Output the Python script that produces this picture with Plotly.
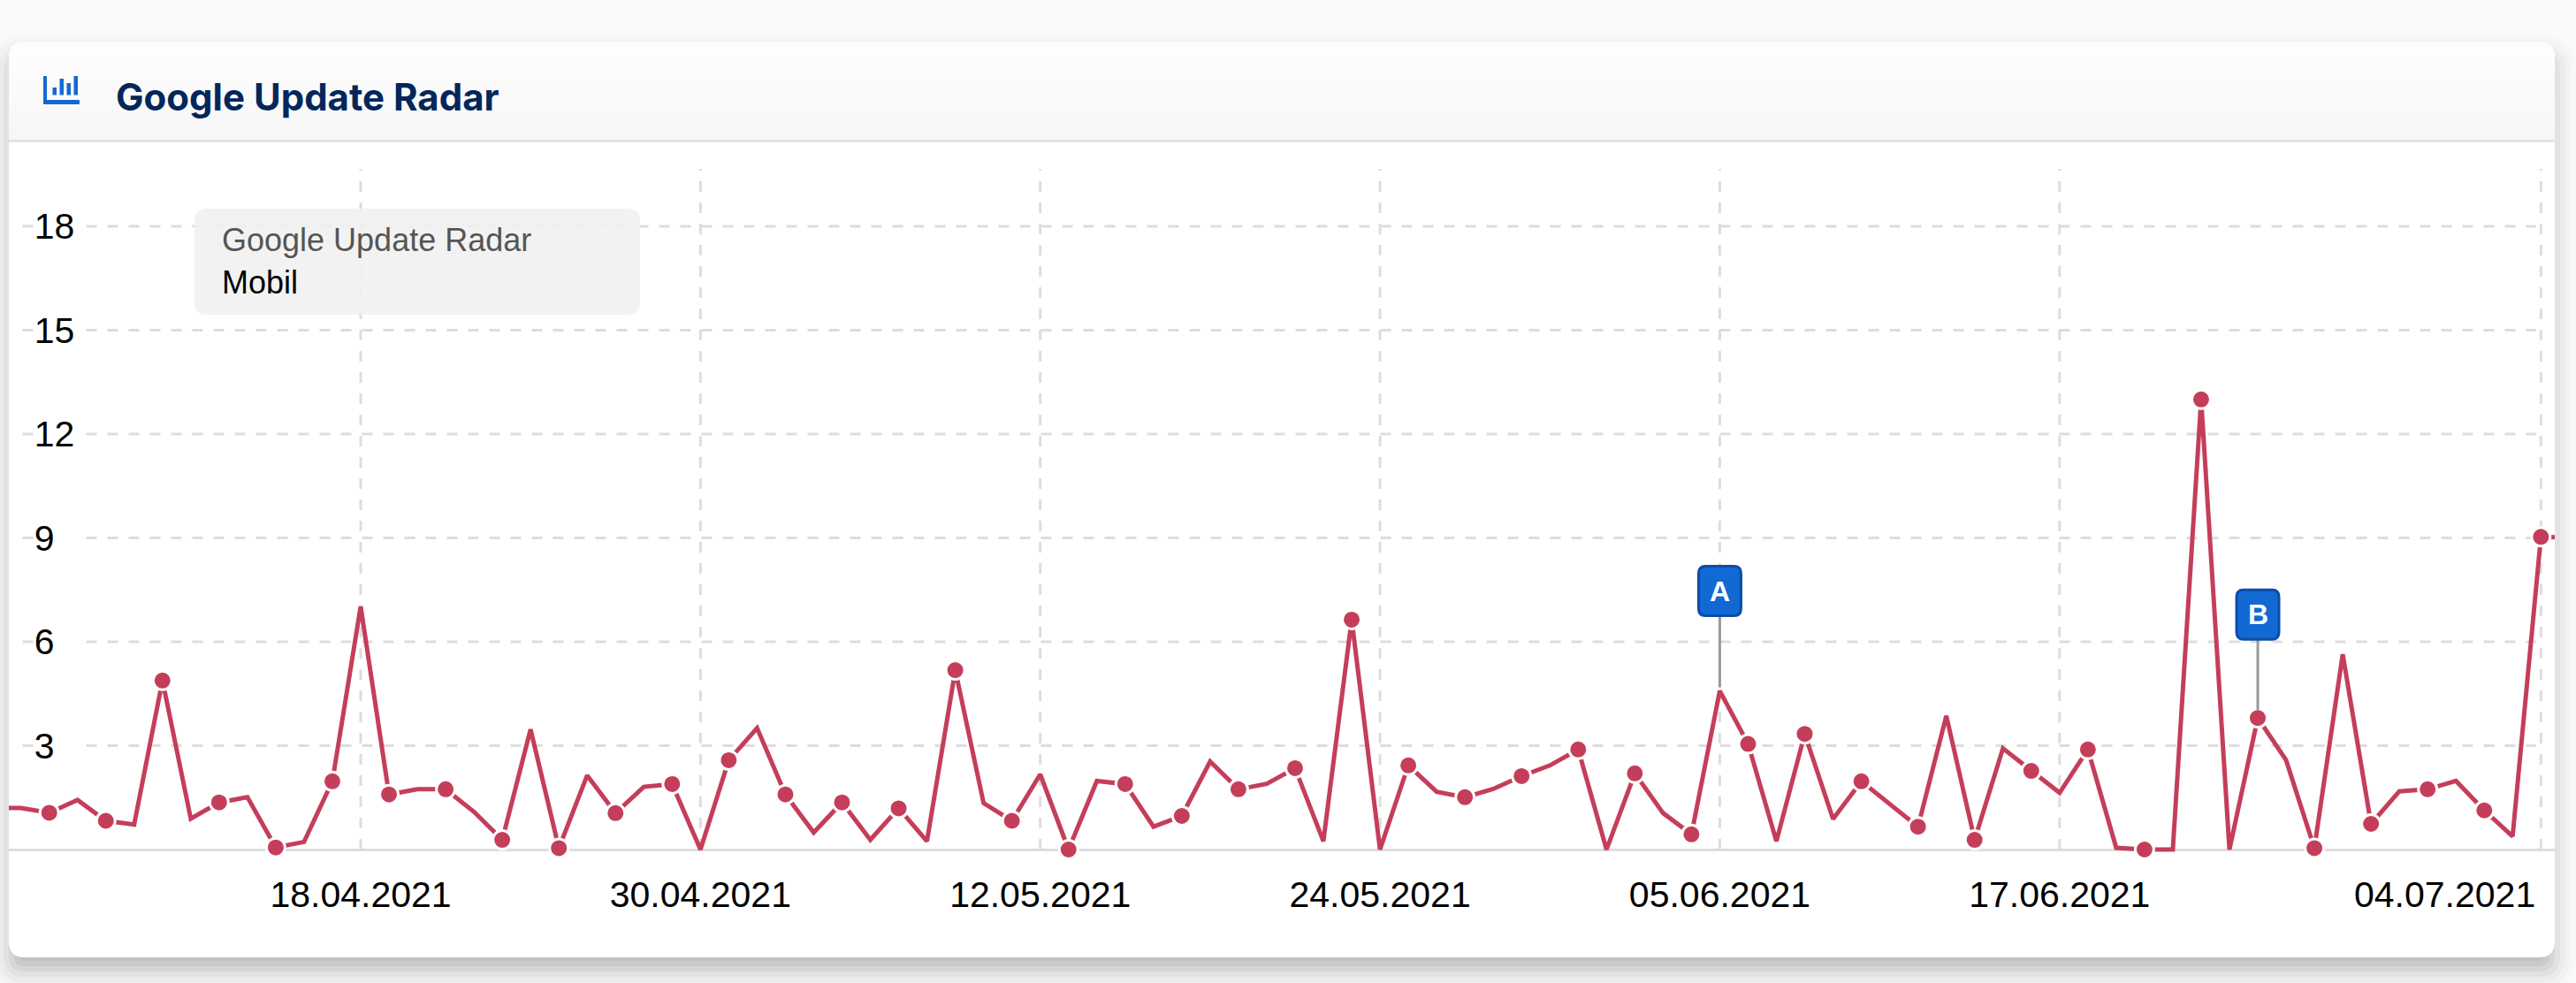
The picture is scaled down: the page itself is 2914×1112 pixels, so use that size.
import plotly.graph_objects as go
import pandas as pd
import numpy as np

dates = pd.date_range("2021-04-05", "2021-07-05", freq="D")
values = [
    1.2, 1.2, 1.06, 1.43, 0.83, 0.72, 4.88, 0.89, 1.36, 1.51, 0.06, 0.22, 1.97, 7.02,
    1.59, 1.74, 1.74, 1.09, 0.28, 3.47, 0.04, 2.14, 1.05, 1.81, 1.89, 0, 2.58, 3.51,
    1.59, 0.49, 1.36, 0.28, 1.19, 0.24, 5.18, 1.34, 0.83, 2.17, 0, 1.98, 1.89, 0.66,
    0.97, 2.54, 1.74, 1.9, 2.35, 0.24, 6.64, 0, 2.43, 1.67, 1.51, 1.75, 2.12, 2.43,
    2.89, 0, 2.2, 1.05, 0.44, 4.58, 3.05, 0.24, 3.34, 0.88, 1.97, 1.3, 0.66, 3.86,
    0.28, 2.92, 2.27, 1.64, 2.89, 0.05, 0, 0, 13.0, 0, 3.8, 2.58, 0.04, 5.64, 0.74,
    1.68, 1.74, 1.98, 1.13, 0.38, 9.03, 9.0,
]
y_ticks = [3, 6, 9, 12, 15, 18]
tick_dates = ["2021-04-18", "2021-04-30", "2021-05-12", "2021-05-24", "2021-06-05", "2021-06-17"]
tick_labels = ["18.04.2021", "30.04.2021", "12.05.2021", "24.05.2021", "05.06.2021", "17.06.2021"]
last_date = "2021-07-04"
last_label = "04.07.2021"
flags = [("A", "2021-06-05", 4.58, 4, 81), ("B", "2021-06-24", 3.8, 9, 80)]

W, H = 2914, 1112
L, R, T, B = 10, 2890, 191, 975  # plot area in page pixels
UNIT = 39.17  # pixels per y unit
RED = "#c43e5a"
BLUE = "#1269d3"
GRID = "#dddddd"
FONT = "Liberation Sans"


def box_path(a, b, c, d, r):
    # a,c left/right and b,d top/bottom, in pixels with y going up
    return (f"M{a + r},{b} L{c - r},{b} Q{c},{b} {c},{b - r} L{c},{d + r} Q{c},{d} {c - r},{d} "
            f"L{a + r},{d} Q{a},{d} {a},{d + r} L{a},{b - r} Q{a},{b} {a + r},{b} Z")


def page_rect(x0, y0, x1, y1, r=0, fill="#ffffff", opacity=1, layer="below"):
    # rectangle given in page pixels, anchored on the top left of the plot area
    return dict(type="path", xref="paper", yref="paper", xsizemode="pixel", ysizemode="pixel",
                xanchor=0, yanchor=1, path=box_path(x0 - L, T - y0, x1 - L, T - y1, r),
                fillcolor=fill, opacity=opacity, line_width=0, layer=layer)


shapes = []

# card shadow
spreads = np.arange(-42, 27, 6)
weights = np.exp(-((spreads + 8) ** 2) / (2 * 18.0 ** 2))
weights = weights / weights.sum() * 0.36
for s, w in zip(spreads, weights):
    shapes.append(page_rect(10 - s, 47 + 16 - s, 2890 + s, 1083 + 16 + s, max(18 + s, 6),
                            fill="#000000", opacity=float(w)))

# card and header
shapes.append(page_rect(10, 47, 2890, 1083, 18))
shapes.append(page_rect(10, 47, 2890, 120, 18, fill="#fdfdfd"))
for i, c in enumerate(["#fcfcfc", "#fbfbfb", "#fafafa", "#f9f9f9", "#f8f8f8", "#f7f7f7"]):
    shapes.append(page_rect(10, 65 + i * 16, 2890, 158, 0, fill=c))
shapes.append(page_rect(10, 158, 2890, 161, 0, fill="#e4e4e4"))

# chart icon
shapes.append(page_rect(49, 86, 53, 118, 1, fill=BLUE))
shapes.append(page_rect(49, 113, 90, 118, 1, fill=BLUE))
for x0, top in [(59.5, 99), (67.5, 89), (75.5, 94), (83.5, 86)]:
    shapes.append(page_rect(x0, top, x0 + 4.5, 107.5, 0, fill=BLUE))

# grid
dash = "12px,12px"
for v in y_ticks:
    for x0, x1 in [(25.5, 37.5), (97.5, 2869)]:
        shapes.append(dict(type="line", xref="paper", yref="y", x0=(x0 - L) / (R - L), x1=(x1 - L) / (R - L),
                           y0=v, y1=v, line=dict(color=GRID, width=3, dash=dash), layer="below"))
for d in tick_dates + [last_date]:
    shapes.append(dict(type="line", xref="x", yref="paper", x0=d, x1=d, y0=(B - 961) / (B - T), y1=1,
                       line=dict(color=GRID, width=3, dash=dash), layer="below"))

# legend box
shapes.append(page_rect(220, 236, 724, 356, 14, fill="#f0f0f0", opacity=0.88, layer="above"))

annotations = [
    dict(text="Google Update Radar", xref="paper", yref="paper", x=(249 - L) / (R - L), y=1 - (271 - T) / (B - T),
         xanchor="left", yanchor="middle", showarrow=False, font=dict(family=FONT, size=36, color="#555555")),
    dict(text="Mobil", xref="paper", yref="paper", x=(249 - L) / (R - L), y=1 - (319 - T) / (B - T),
         xanchor="left", yanchor="middle", showarrow=False, font=dict(family=FONT, size=36, color="#000000")),
    dict(text=last_label, xref="x", yref="paper", x=last_date, y=1 - (1012 - T) / (B - T), xshift=-4,
         xanchor="right", yanchor="middle", showarrow=False, font=dict(family=FONT, size=41, color="#000000")),
]

# flags on the series
for letter, day, val, gap, stem in flags:
    shapes.append(dict(type="line", xref="x", yref="y", xsizemode="pixel", ysizemode="pixel",
                       xanchor=day, yanchor=val, x0=0, x1=0, y0=gap, y1=gap + stem,
                       line=dict(color="#999999", width=3), layer="above"))
    shapes.append(dict(type="path", xref="x", yref="y", xsizemode="pixel", ysizemode="pixel",
                       xanchor=day, yanchor=val, path=box_path(-24, gap + stem + 56, 24, gap + stem, 8),
                       fillcolor=BLUE, line=dict(color="#0b4da8", width=3), layer="above"))
    annotations.append(dict(text=f"<b>{letter}</b>", x=day, y=val, xref="x", yref="y", showarrow=False,
                            yshift=gap + stem + 28, font=dict(family=FONT, size=32, color="#ffffff")))

fig = go.Figure()
fig.add_trace(go.Scatter(x=dates, y=values, mode="lines", line=dict(color=RED, width=5), hoverinfo="skip"))
fig.add_trace(go.Scatter(x=dates[::2], y=values[::2], mode="markers",
                         marker=dict(color=RED, size=21, line=dict(color="#ffffff", width=3))))

tick_font = dict(family=FONT, size=41, color="#000000")
fig.update_layout(
    width=W, height=H, showlegend=False,
    margin=dict(l=L, r=W - R, t=T, b=H - B, pad=0),
    paper_bgcolor="#fafafa", plot_bgcolor="rgba(0,0,0,0)",
    font=dict(family=FONT, size=40, color="#000000"),
    title=dict(text="<b>Google Update Radar</b>", xref="container", yref="container",
               x=131 / W, y=1 - 110 / H, xanchor="left", yanchor="middle",
               font=dict(family="Inter", size=42, color="#03275b")),
    shapes=shapes, annotations=annotations,
)
day0 = pd.Timestamp("2021-04-18")
px_day = 32.03
fig.update_xaxes(
    range=[day0 + pd.Timedelta(days=(L - 408) / px_day), day0 + pd.Timedelta(days=(R - 408) / px_day)],
    tickmode="array", tickvals=tick_dates, ticktext=tick_labels, tickfont=tick_font,
    ticks="outside", ticklen=1, tickcolor="rgba(0,0,0,0)",
    showgrid=False, zeroline=False, showline=False,
)
fig.update_yaxes(
    range=[-(B - 961) / UNIT, (961 - T) / UNIT],
    tickmode="array", tickvals=y_ticks, tickfont=tick_font, ticklabelposition="inside", ticks="inside", ticklen=34,
    tickcolor="rgba(0,0,0,0)", showgrid=False, zeroline=True, zerolinecolor=GRID, zerolinewidth=3, showline=False,
)

fig.write_html("out.html", config=dict(displayModeBar=False),
               post_script="document.body.style.margin='0';document.body.style.background='#fafafa';")
